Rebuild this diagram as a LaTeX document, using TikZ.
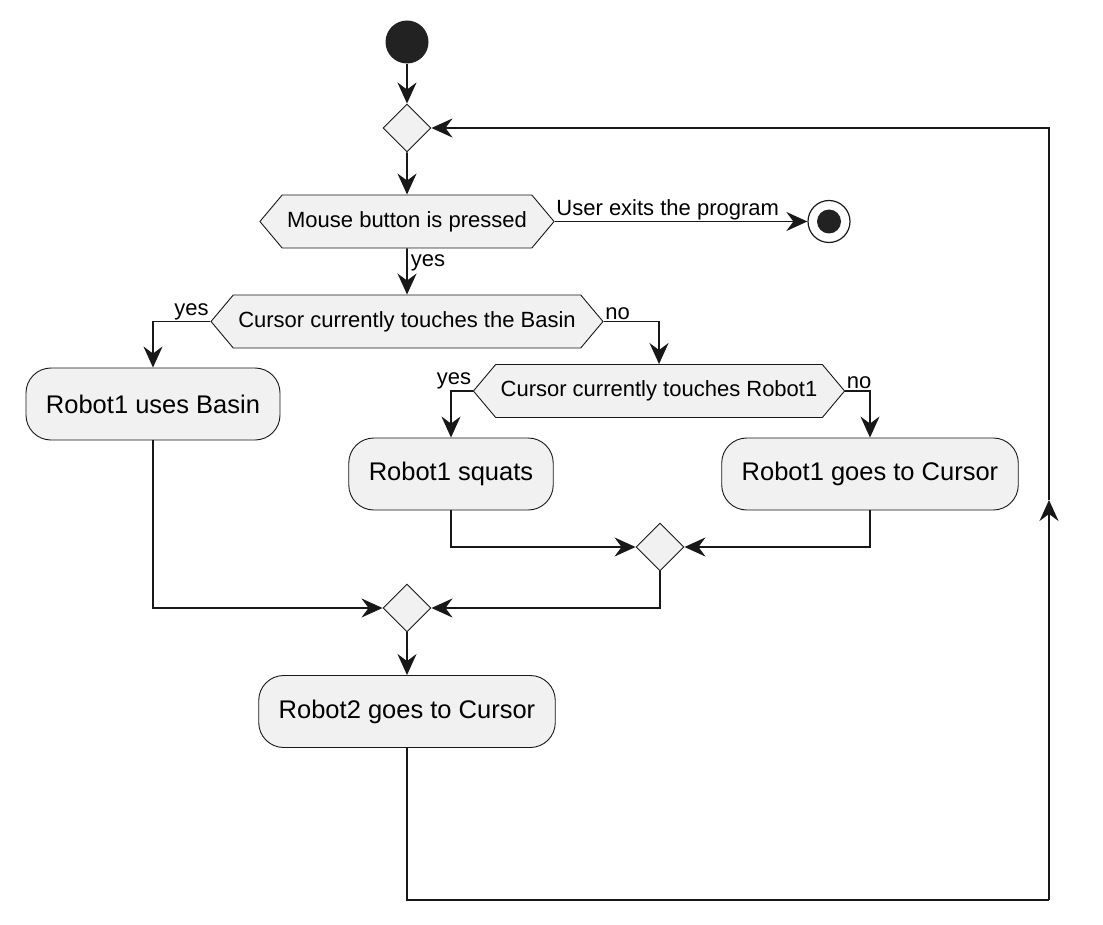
\documentclass[tikz,border=0pt]{standalone}
\usepackage{fontspec}
\setmainfont{Liberation Sans}
\usetikzlibrary{arrows.meta, shapes.geometric, shapes.symbols}

\definecolor{boxfill}{HTML}{F1F1F1}
\definecolor{inkline}{HTML}{181818}
\definecolor{dotfill}{HTML}{222222}

\tikzset{
  act/.style={draw=inkline, line width=0.9pt, fill=boxfill, rounded corners=25pt,
    minimum height=72pt, inner xsep=20pt, font=\fontsize{25.5}{30}\selectfont},
  cond/.style={draw=inkline, line width=0.9pt, fill=boxfill, signal,
    signal to=east and west, signal pointer angle=100, minimum height=53pt,
    inner xsep=5pt, font=\fontsize{22}{26}\selectfont},
  merge/.style={draw=inkline, line width=0.9pt, fill=boxfill, diamond,
    minimum width=48pt, minimum height=48pt, inner sep=0pt},
  startdot/.style={circle, fill=dotfill, minimum size=43pt, inner sep=0pt},
  enddot/.style={circle, draw=inkline, line width=1.2pt, minimum size=42pt, inner sep=0pt,
    path picture={\fill[dotfill] (path picture bounding box.center) circle (12pt);}},
  flow/.style={draw=inkline, line width=1.6pt, -{Stealth[length=21pt, width=19pt, inset=7pt]}},
  lbl/.style={font=\fontsize{22}{26}\selectfont, inner sep=1pt}
}

\begin{document}
\begin{tikzpicture}[x=1pt, y=-1pt]
  \useasboundingbox (0,0) rectangle (1103,925);

  \node[startdot] (start) at (407,42) {};
  \node[merge] (m0) at (407,128) {};
  \node[cond] (q1) at (407,221.5) {Mouse button is pressed};
  \node[enddot] (stop) at (829,221.5) {};
  \node[cond] (q2) at (407,321.5) {Cursor currently touches the Basin};
  \node[act] (a1) at (153,404) {Robot1 uses Basin};
  \node[cond] (q3) at (659,391) {Cursor currently touches Robot1};
  \node[act] (a2) at (451,474) {Robot1 squats};
  \node[act] (a3) at (870,474) {Robot1 goes to Cursor};
  \node[merge] (m2) at (660,547) {};
  \node[merge] (m1) at (407,608) {};
  \node[act] (a4) at (407,711.5) {Robot2 goes to Cursor};

  \coordinate (c1) at (1049,900);
  \coordinate (c2) at (1049,500);

  \draw[flow] (start) -- (m0);
  \draw[flow] (m0) -- (q1);
  \draw[flow] (q1.east) -- node[lbl, pos=0, anchor=south west] {User exits the program} (stop);
  \draw[flow] (q1) -- node[lbl, pos=0.1, anchor=north west, xshift=2pt] {yes} (q2);
  \draw[flow] (q2.west) -| node[lbl, pos=0, anchor=south east] {yes} (a1);
  \draw[flow] (q2.east) -| node[lbl, pos=0, anchor=south west] {no} (q3);
  \draw[flow] (q3.west) -| node[lbl, pos=0, anchor=south east] {yes} (a2);
  \draw[flow] (q3.east) -| node[lbl, pos=0, anchor=south west] {no} (a3);
  \draw[flow] (a2) |- (m2);
  \draw[flow] (a3) |- (m2);
  \draw[flow] (a1) |- (m1);
  \draw[flow] (m2) |- (m1);
  \draw[flow] (m1) -- (a4);
  \draw[draw=inkline, line width=1.6pt] (a4) |- (c1);
  \draw[flow] (c1) -- (c2);
  \draw[flow] (c2) |- (m0);
\end{tikzpicture}
\end{document}
